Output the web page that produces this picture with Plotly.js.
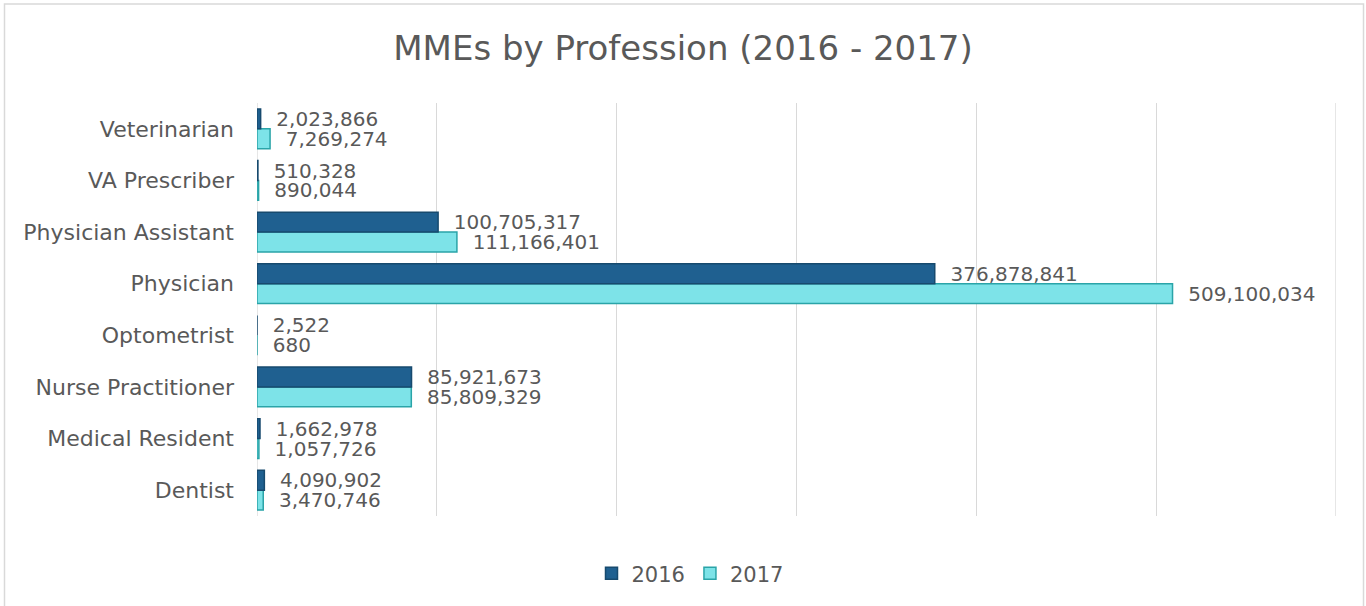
<!DOCTYPE html>
<html>
<head>
<meta charset="utf-8">
<script src="https://cdn.plot.ly/plotly-3.0.1.min.js"></script>
<style>html,body{margin:0;padding:0;background:#fff;}#chart{width:1366px;height:606px;}</style>
</head>
<body>
<div id="chart"></div>
<script>
const categories = ["Dentist", "Medical Resident", "Nurse Practitioner", "Optometrist", "Physician", "Physician Assistant", "VA Prescriber", "Veterinarian"];
const values2016 = [4090902, 1662978, 85921673, 2522, 376878841, 100705317, 510328, 2023866];
const values2017 = [3470746, 1057726, 85809329, 680, 509100034, 111166401, 890044, 7269274];
const seriesNames = ["2016", "2017"];

const FONT = "DejaVu Sans, Lato, sans-serif";
const TXT = "#595959";

const common = {
  type: "bar",
  orientation: "h",
  y: categories,
  textposition: "outside",
  texttemplate: "\u00a0\u00a0%{x:,}",
  constraintext: "none",
  cliponaxis: false,
  textfont: {family: FONT, size: 20, color: TXT},
  hoverinfo: "x+name"
};

// 2017 first so that 2016 sits on top within each group (as in the reference)
const traces = [
  Object.assign({}, common, {
    name: seriesNames[1], x: values2017,
    marker: {color: "#7DE3E8", line: {color: "#2AA4A8", width: 1.5}}
  }),
  Object.assign({}, common, {
    name: seriesNames[0], x: values2016,
    marker: {color: "#1F6090", line: {color: "#174A6E", width: 1.5}}
  })
];

const L = 257, R = 30, T = 103, B = 88, W = 1366, H = 606;
const pw = W - L - R, ph = H - T - B;
const px = v => (v - L) / pw;
const py = v => (H - B - v) / ph;

const layout = {
  width: W, height: H,
  margin: {l: L, r: R, t: T, b: B, pad: 0},
  paper_bgcolor: "#fff", plot_bgcolor: "#fff",
  font: {family: FONT, color: TXT, size: 21},
  title: {text: "MMEs by Profession (2016 - 2017)", font: {family: FONT, size: 34, color: TXT}, x: 0.5, xanchor: "center", y: 1 - 48/H, yanchor: "middle"},
  barmode: "group",
  bargap: 0.23,
  bargroupgap: 0,
  separators: ".,",
  xaxis: {range: [0, 600000000], dtick: 100000000, showticklabels: false, showgrid: true, gridcolor: "#D9D9D9", gridwidth: 1.3, zeroline: false, showline: false, ticks: "", fixedrange: true},
  yaxis: {type: "category", categoryorder: "array", categoryarray: categories, showgrid: false, zeroline: false, showline: false, ticks: "", ticklabelstandoff: 22, tickfont: {family: FONT, size: 22, color: TXT}, fixedrange: true},
  legend: {orientation: "h", x: px(690), xanchor: "center", y: py(576), yanchor: "middle", font: {family: FONT, size: 21, color: TXT}, traceorder: "reversed", itemwidth: 30},
  shapes: [
    {type: "rect", xref: "paper", yref: "paper", x0: px(4.5), x1: px(1363.5), y0: py(612), y1: py(3.5), line: {color: "#D9D9D9", width: 1.5}, fillcolor: "rgba(0,0,0,0)", layer: "below"},
    {type: "line", xref: "x", yref: "paper", x0: 0, x1: 0, y0: 0, y1: 1, line: {color: "#D9D9D9", width: 1.3}, layer: "below"},
    {type: "line", xref: "x", yref: "paper", x0: 600000000, x1: 600000000, y0: 0, y1: 1, line: {color: "#D9D9D9", width: 1.3}, layer: "below"}
  ],
  showlegend: true
};

Plotly.newPlot("chart", traces, layout, {displayModeBar: false, staticPlot: true});
</script>
</body>
</html>
